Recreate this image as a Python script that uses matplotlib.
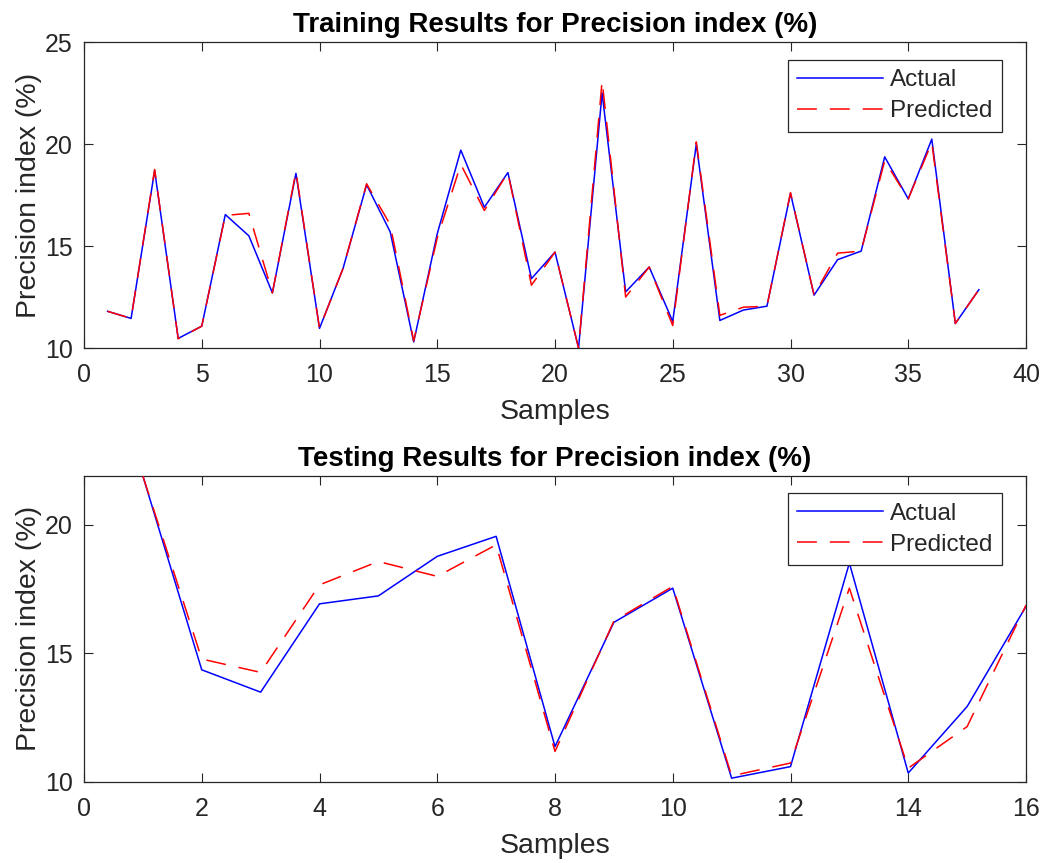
import matplotlib
matplotlib.use("Agg")
import matplotlib.pyplot as plt
import numpy as np

plt.rcParams['font.family'] = ['Liberation Sans', 'DejaVu Sans']

# Training data
train_actual = [11.8, 11.45, 18.7, 10.47, 11.07, 16.54, 15.5, 12.7, 18.56, 10.96,
                13.9, 18.0, 15.7, 10.3, 15.6, 19.7, 16.9, 18.6, 13.4, 14.7,
                10.0, 22.5, 12.75, 13.97, 11.3, 20.0, 11.35, 11.86, 12.05, 17.58,
                12.59, 14.33, 14.75, 19.37, 17.31, 20.24, 11.2, 12.86]
train_pred = [11.8, 11.45, 18.75, 10.45, 11.07, 16.5, 16.6, 12.7, 18.65, 10.96,
              13.9, 18.05, 16.05, 10.35, 15.4, 19.0, 16.74, 18.6, 13.08, 14.7,
              10.0, 23.1, 12.5, 13.97, 11.1, 20.1, 11.6, 12.0, 12.05, 17.62,
              12.59, 14.65, 14.75, 19.18, 17.31, 20.07, 11.2, 12.86]

# Testing data
test_actual = [21.9, 14.35, 13.48, 16.92, 17.23, 18.77, 19.55, 11.36, 16.2, 17.53,
               10.13, 10.58, 18.51, 10.33, 12.92, 16.82]
test_pred = [21.9, 14.77, 14.25, 17.66, 18.57, 17.99, 19.22, 11.17, 16.25, 17.6,
             10.22, 10.72, 17.53, 10.52, 12.14, 16.87]

titles = ['Training Results for Precision index (%)', 'Testing Results for Precision index (%)']
xlabel = 'Samples'
ylabel = 'Precision index (%)'
legend_labels = ['Actual', 'Predicted']

W, H = 1044, 863
fig = plt.figure(figsize=(W / 100, H / 100), dpi=100)

gray = '#262626'


def make_ax(rect, actual, pred, title, xlim, ylim, xticks, yticks, leg_anchor):
    ax = fig.add_axes(rect)
    x = np.arange(1, len(actual) + 1)
    ax.plot(x, actual, color='#0000ff', lw=1.1, label=legend_labels[0], zorder=3)
    ax.plot(x, pred, color='#ff0000', lw=1.1, linestyle=(0, (13, 8.5)),
            label=legend_labels[1], zorder=4)
    ax.set_xlim(*xlim)
    ax.set_ylim(*ylim)
    ax.set_xticks(xticks)
    ax.set_yticks(yticks)
    ax.tick_params(direction='in', length=6.5, width=0.8, colors=gray, labelsize=18,
                   top=True, right=True)
    ax.tick_params(axis='x', pad=11)
    ax.tick_params(axis='y', pad=8)
    for s in ax.spines.values():
        s.set_color(gray)
        s.set_linewidth(0.9)
    ax.set_title(title, fontsize=20, fontweight='bold', color='black', pad=7)
    ax.set_xlabel(xlabel, fontsize=20.5, color=gray, labelpad=8.5)
    ax.set_ylabel(ylabel, fontsize=20.5, color=gray, labelpad=2)
    leg = ax.legend(loc='upper right', bbox_to_anchor=leg_anchor, fontsize=17.5,
                    handlelength=3.55, handletextpad=0.3, borderpad=0.38,
                    labelspacing=0.37, fancybox=False, framealpha=1,
                    edgecolor=gray, borderaxespad=0)
    leg.get_frame().set_linewidth(0.9)
    for t in leg.get_texts():
        t.set_color(gray)
    return ax


left = 84 / W
width = 942 / W
make_ax([left, 1 - 348 / H, width, 306 / H], train_actual, train_pred, titles[0],
        (0, 40), (10, 25), [0, 5, 10, 15, 20, 25, 30, 35, 40], [10, 15, 20, 25],
        (0.9745, 0.941))
make_ax([left, 1 - 781.5 / H, width, 305.5 / H], test_actual, test_pred, titles[1],
        (0, 16), (10, 21.9), [0, 2, 4, 6, 8, 10, 12, 14, 16], [10, 15, 20],
        (0.9745, 0.943))

fig.savefig('out.png', dpi=100, facecolor='white')
